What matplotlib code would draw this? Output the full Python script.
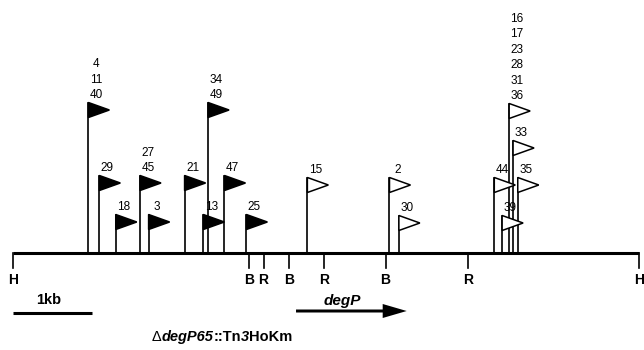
import matplotlib
matplotlib.use("Agg")
import matplotlib.pyplot as plt
from matplotlib.patches import Polygon, FancyArrow

plt.rcParams['font.family'] = ['Liberation Sans', 'DejaVu Sans']

# restriction sites along the 8 kb map (kb)
site_names = ["H", "B", "R", "B", "R", "B", "R", "H"]
site_pos = [0.0, 3.01, 3.20, 3.53, 3.97, 4.76, 5.82, 8.0]

# insertions: position (kb), flag height, labels, filled flag or not
ins_pos = [0.96, 1.10, 1.31, 1.62, 1.73, 2.19, 2.43, 2.49, 2.70, 2.98,
           3.76, 4.81, 4.93, 6.15, 6.25, 6.34, 6.39, 6.45]
ins_height = [150, 77, 38, 77, 38, 77, 38, 150, 77, 38,
              75, 75, 37, 75, 37, 149, 112, 75]
ins_labels = [["4", "11", "40"], ["29"], ["18"], ["27", "45"], ["3"], ["21"],
              ["13"], ["34", "49"], ["47"], ["25"], ["15"], ["2"], ["30"],
              ["44"], ["39"], ["16", "17", "23", "28", "31", "36"], ["33"],
              ["35"]]
ins_filled = [True] * 10 + [False] * 8

gene_start, gene_end = 3.615, 5.03
map_len = 8.0

fig = plt.figure(figsize=(6.44, 3.5), dpi=100)
ax = fig.add_axes([0, 0, 1, 1])
px = 78.21  # pixels per kb
ax.set_xlim(-13.3 / px, (644 - 13.3) / px)
ax.set_ylim(-97.5, 252.5)
ax.axis('off')

kb = 1 / px  # one pixel in x units

# baseline
ax.plot([0, map_len], [0, 0], color='black', lw=2.2, solid_capstyle='butt')

# restriction sites
for name, pos in zip(site_names, site_pos):
    ax.plot([pos, pos], [0, -15.5], color='black', lw=1.2)
    ax.text(pos, -27, name, ha='center', va='center', fontsize=10,
            fontweight='bold')

# insertion flags
for pos, h, labels, filled in zip(ins_pos, ins_height, ins_labels, ins_filled):
    ax.plot([pos, pos], [0, h], color='black', lw=1.2)
    tri = Polygon([[pos, h], [pos + 21 * kb, h - 7.5], [pos, h - 15]],
                  closed=True, facecolor='black' if filled else 'white',
                  edgecolor='black', lw=1.1, zorder=3)
    ax.add_patch(tri)
    for i, lab in enumerate(reversed(labels)):
        ax.text(pos + 8 * kb, h + 7.5 + i * 15.4, lab, ha='center',
                va='center', fontsize=8.5)

# scale bar
ax.plot([0, 1], [-60, -60], color='black', lw=2.2, solid_capstyle='butt')
ax.text(0.45, -47.5, "1kb", ha='center', va='center', fontsize=10.5,
        fontweight='bold')

# gene arrow
ax.add_patch(FancyArrow(gene_start, -58.5, gene_end - gene_start, 0,
                        width=3, head_width=14, head_length=24 * kb,
                        length_includes_head=True, color='black', lw=0))
ax.text((gene_start + gene_end) / 2 - 0.12, -48.5, "degP", ha='center',
        va='center', fontsize=11, fontweight='bold', fontstyle='italic')

# strain name, drawn in styled runs
runs = [("Δ", 'normal'), ("degP65", 'italic'), ("::Tn", 'normal'),
        ("3", 'italic'), ("HoKm", 'normal')]
renderer = fig.canvas.get_renderer()
x = 1.77
for s, style in runs:
    t = ax.text(x, -84.5, s, ha='left', va='center', fontsize=10.5,
                fontweight='normal' if s == "Δ" else 'bold', fontstyle=style)
    bb = t.get_window_extent(renderer)
    x = ax.transData.inverted().transform((bb.x1, bb.y0))[0]

fig.savefig("out.png", dpi=100)
